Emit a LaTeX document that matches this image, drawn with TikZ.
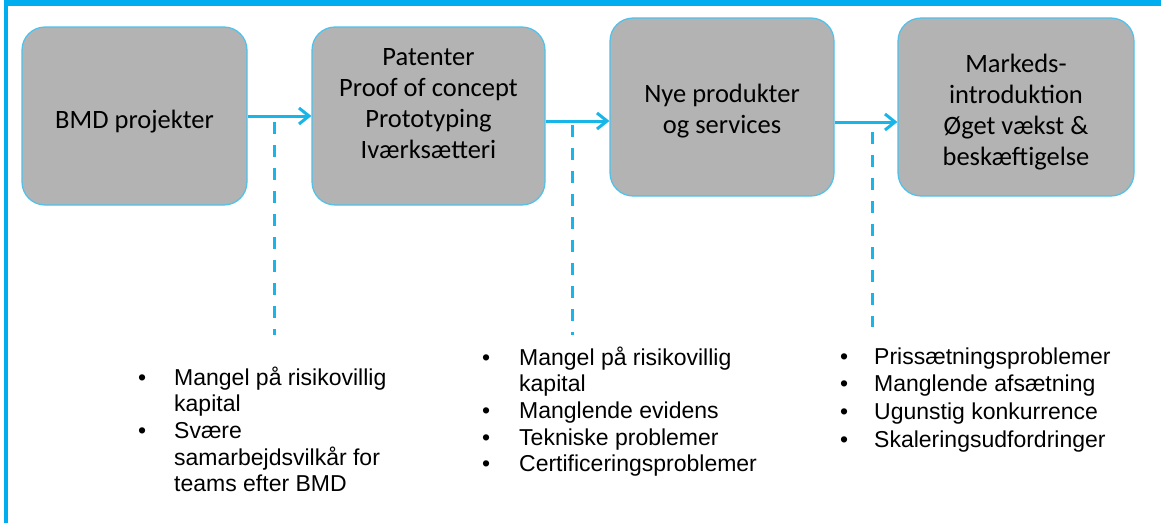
\documentclass[tikz,border=0pt]{standalone}
\usepackage{fontspec}
\setmainfont{Liberation Sans}
\newfontfamily\boxfont{Carlito}
\usetikzlibrary{arrows.meta}
\definecolor{framebl}{HTML}{00AEEF}
\definecolor{linkbl}{HTML}{17B5E8}
\definecolor{edgebl}{HTML}{4CC2EC}
\definecolor{stagegray}{HTML}{B3B3B3}
% bullet with a fixed indent before the item text
\newcommand\bul[1]{\makebox[#1][l]{\textbullet}}
\begin{document}
\begin{tikzpicture}[x=1pt,y=-1pt,
  stage/.style={draw=edgebl, line width=1.2pt, fill=stagegray, rounded corners=23pt, inner sep=0pt},
  stagetext/.style={anchor=base, inner sep=0pt, font=\boxfont\fontsize{26.5}{31}\selectfont},
  link/.style={draw=linkbl, line width=3pt, -{Straight Barb[length=10pt,width=16pt]}},
  gap/.style={draw=linkbl, line width=3pt, dash pattern=on 12pt off 11pt},
  hurdles/.style={anchor=base west, inner sep=0pt}]
\useasboundingbox (0,0) rectangle (1161,525);

% frame along the top and the left edge
\fill[framebl] (4,0) rectangle (1161,6);
\fill[framebl] (4,0) rectangle (8,523);

% the four stages
\node[stage, minimum width=225pt, minimum height=178pt] (b1) at (134.5,116) {};
\node[stage, minimum width=233pt, minimum height=178pt] (b2) at (428.5,116) {};
\node[stage, minimum width=224pt, minimum height=178pt] (b3) at (722,107) {};
\node[stage, minimum width=236pt, minimum height=178pt] (b4) at (1016,107) {};

\node[stagetext] (t1) at (134.5,128) {BMD projekter};
\node[stagetext] (t2) at (428.5,65) {\begin{tabular}[t]{@{}c@{}}Patenter\\Proof of concept\\Prototyping\\Iværksætteri\end{tabular}};
\node[stagetext] (t3) at (722,102) {\begin{tabular}[t]{@{}c@{}}Nye produkter\\og services\end{tabular}};
\node[stagetext] (t4) at (1016,72) {\begin{tabular}[t]{@{}c@{}}Markeds-\\introduktion\\Øget vækst \&\\beskæftigelse\end{tabular}};

% arrows between the stages
\draw[link] (b1) -- (b2);
\draw[link] ([yshift=-5pt]b2.east) -- ([yshift=-14pt]b3.west);
\draw[link] ([yshift=-15pt]b3.east) -- ([yshift=-15pt]b4.west);

% dashed drops to the barriers
\coordinate (g1a) at (274,122); \coordinate (g1b) at (274,335);
\coordinate (g2a) at (572,125); \coordinate (g2b) at (572,335);
\coordinate (g3a) at (872,132); \coordinate (g3b) at (872,327);
\draw[gap] (g1a) -- (g1b);
\draw[gap] (g2a) -- (g2b);
\draw[gap] (g3a) -- (g3b);

% barrier lists
\node[hurdles, font=\fontsize{23}{26.7}\selectfont] (l1) at (138,385) {\begin{tabular}[t]{@{}l@{}}
\bul{36pt}Mangel på risikovillig\\
\hspace*{36pt}kapital\\
\bul{36pt}Svære\\
\hspace*{36pt}samarbejdsvilkår for\\
\hspace*{36pt}teams efter BMD\end{tabular}};

\node[hurdles, font=\fontsize{23}{26.7}\selectfont] (l2) at (482,365) {\begin{tabular}[t]{@{}l@{}}
\bul{37pt}Mangel på risikovillig\\
\hspace*{37pt}kapital\\
\bul{37pt}Manglende evidens\\
\bul{37pt}Tekniske problemer\\
\bul{37pt}Certificeringsproblemer\end{tabular}};

\node[hurdles, font=\fontsize{23}{27.7}\selectfont] (l3) at (840,364) {\begin{tabular}[t]{@{}l@{}}
\bul{34pt}Prissætningsproblemer\\
\bul{34pt}Manglende afsætning\\
\bul{34pt}Ugunstig konkurrence\\
\bul{34pt}Skaleringsudfordringer\end{tabular}};
\end{tikzpicture}
\end{document}
